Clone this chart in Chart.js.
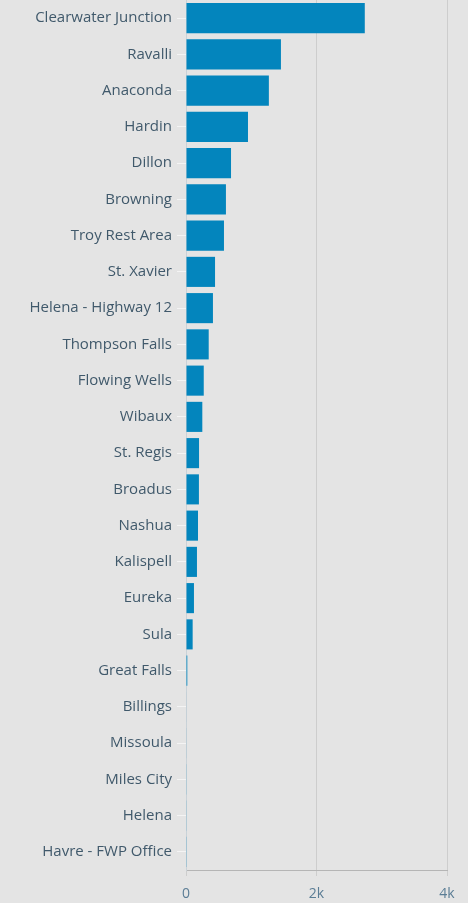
<!DOCTYPE html>
<html>
<head>
<meta charset="utf-8">
<script src="https://cdn.jsdelivr.net/npm/chart.js@4"></script>
<style>
  html, body { margin: 0; padding: 0; background: #e4e4e4; }
  #wrap { width: 468px; height: 903px; position: relative; }
</style>
</head>
<body>
<div id="wrap"><canvas id="c"></canvas></div>
<script>
const categories = [
  "Clearwater Junction", "Ravalli", "Anaconda", "Hardin", "Dillon", "Browning",
  "Troy Rest Area", "St. Xavier", "Helena - Highway 12", "Thompson Falls",
  "Flowing Wells", "Wibaux", "St. Regis", "Broadus", "Nashua", "Kalispell",
  "Eureka", "Sula", "Great Falls", "Billings", "Missoula", "Miles City",
  "Helena", "Havre - FWP Office"
];
const values = [
  2740, 1455, 1270, 950, 690, 612,
  582, 445, 413, 348,
  272, 250, 200, 198, 184, 168,
  122, 102, 20, 8, 7, 6,
  6, 5
];
const xTicks = [0, 2000, 4000];
const xTickLabels = ["0", "2k", "4k"];

new Chart(document.getElementById('c'), {
  type: 'bar',
  data: {
    labels: categories,
    datasets: [{
      data: values,
      backgroundColor: '#0385bd',
      borderWidth: 0,
      categoryPercentage: 0.83,
      barPercentage: 1.0
    }]
  },
  options: {
    indexAxis: 'y',
    responsive: true,
    maintainAspectRatio: false,
    animation: false,
    layout: { padding: { left: 0, right: 21, top: 0, bottom: 0 } },
    plugins: { legend: { display: false }, tooltip: { enabled: false } },
    scales: {
      x: {
        min: 0, max: 4000,
        afterBuildTicks: (axis) => { axis.ticks = xTicks.map(v => ({ value: v })); },
        afterFit: (axis) => { axis.height = 33; axis.paddingLeft = 0; axis.paddingRight = 0; },
        ticks: {
          callback: (v) => xTickLabels[xTicks.indexOf(v)],
          color: '#5b7d95',
          font: { family: 'Open Sans', size: 14 },
          padding: 10,
          maxRotation: 0
        },
        grid: { color: '#cdcdcd', lineWidth: 1, tickLength: 6, drawTicks: true },
        border: { color: '#b5b5b5' }
      },
      y: {
        afterFit: (axis) => { axis.width = 186; axis.paddingTop = 0; axis.paddingBottom = 0; },
        ticks: {
          color: '#40596b',
          font: { family: 'Open Sans', size: 15 },
          padding: 5,
          autoSkip: false
        },
        grid: {
          offset: false,
          drawOnChartArea: false,
          color: '#f4f4f4',
          tickLength: 9
        },
        border: { color: '#c9d2d8' }
      }
    }
  }
});
</script>
</body>
</html>
